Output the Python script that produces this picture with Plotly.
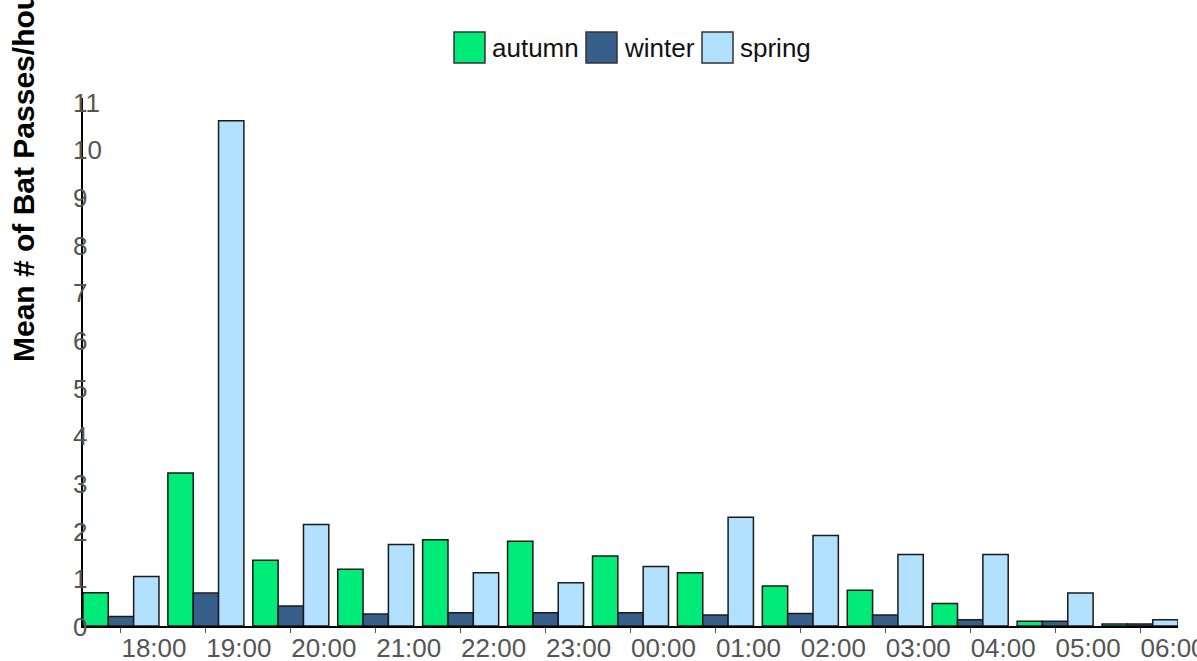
import plotly.graph_objects as go

# Hour of night (category axis)
hours = ["18:00", "19:00", "20:00", "21:00", "22:00", "23:00", "00:00",
         "01:00", "02:00", "03:00", "04:00", "05:00", "06:00"]

# Mean bat passes per hour, by season
autumn = [0.70, 3.21, 1.38, 1.19, 1.81, 1.78, 1.47, 1.12, 0.84, 0.75, 0.47, 0.10, 0.04]
winter = [0.20, 0.69, 0.42, 0.25, 0.28, 0.28, 0.28, 0.23, 0.26, 0.23, 0.13, 0.10, 0.04]
spring = [1.04, 10.60, 2.13, 1.71, 1.12, 0.91, 1.25, 2.28, 1.90, 1.50, 1.50, 0.69, 0.13]

y_ticks = list(range(0, 12))

seasons = ["autumn", "winter", "spring"]
colors = {"autumn": "#00EB77", "winter": "#366089", "spring": "#B2E0FF"}
values = {"autumn": autumn, "winter": winter, "spring": spring}

W, H = 1197, 661
ML, MR, MT, MB = 83, 19, 98, 35
PW, PH = W - ML - MR, H - MT - MB


def px_x(px):
    return (px - ML) / PW


def px_y(py):
    return (H - MB - py) / PH


fig = go.Figure()
for s in seasons:
    fig.add_trace(go.Bar(
        x=hours, y=values[s], name=s,
        marker=dict(color=colors[s], line=dict(color="#1a1a1a", width=1.5)),
        showlegend=False,
    ))

# Legend drawn as large swatches with labels above the plot
legend_items = [("autumn", 454, 490), ("winter", 586, 622), ("spring", 702, 738)]
shapes = []
annotations = []
for name, sx, tx in legend_items:
    shapes.append(dict(
        type="rect", xref="paper", yref="paper",
        x0=px_x(sx), x1=px_x(sx + 31), y0=px_y(63), y1=px_y(32),
        fillcolor=colors[name], line=dict(color="#333333", width=1.5),
    ))
    annotations.append(dict(
        text=name, xref="paper", yref="paper",
        x=px_x(tx), y=px_y(48), xanchor="left", yanchor="middle",
        showarrow=False, font=dict(size=26, color="#111111"),
    ))

# Y tick labels, left-aligned and straddling the axis line
for v in y_ticks:
    annotations.append(dict(
        text=str(v), xref="paper", yref="y",
        x=px_x(72), y=v, xanchor="left", yanchor="middle",
        showarrow=False, borderpad=0, yshift=-1,
        font=dict(size=26, color="#555555"),
    ))

# Rotated y-axis title
annotations.append(dict(
    text="<b>Mean # of Bat Passes/hour</b>", xref="paper", yref="paper",
    x=px_x(23), y=px_y(171), xanchor="center", yanchor="middle",
    textangle=-90, showarrow=False,
    font=dict(size=30, color="#000000"),
))

fig.update_layout(
    width=W, height=H,
    margin=dict(l=ML, r=MR, t=MT, b=MB, autoexpand=False),
    barmode="group", bargap=0.105, bargroupgap=0,
    plot_bgcolor="white", paper_bgcolor="white",
    font=dict(family="Liberation Sans, Arial, sans-serif"),
    shapes=shapes, annotations=annotations,
    showlegend=False,
)

fig.update_xaxes(
    type="category", range=[-0.447, 12.447],
    showline=True, linecolor="#000000", linewidth=1.5,
    ticks="outside", ticklen=5, tickcolor="#555555", tickwidth=1,
    tickfont=dict(size=26, color="#555555"),
    ticklabelshift=33, ticklabelstandoff=-7,
    showgrid=False, automargin=False,
)

fig.update_yaxes(
    range=[0, 11.08], tickvals=y_ticks, showticklabels=False,
    showline=True, linecolor="#000000", linewidth=1.5,
    ticks="", showgrid=False, zeroline=False, automargin=False,
)

fig.write_html("out.html")
